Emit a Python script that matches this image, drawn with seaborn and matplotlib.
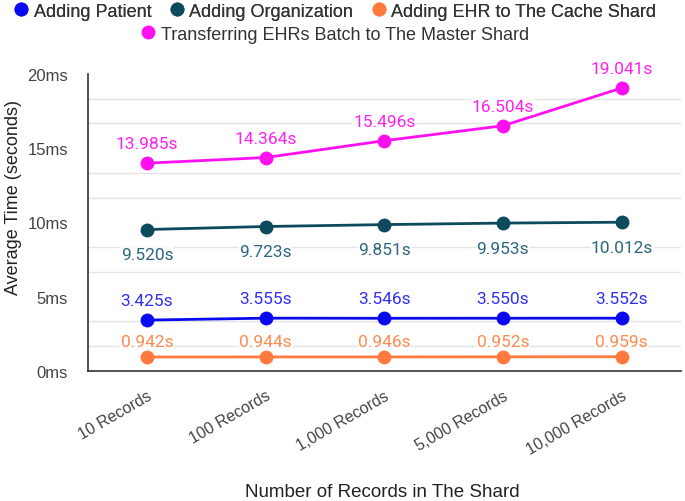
import pandas as pd
import numpy as np
import seaborn as sns
import matplotlib.pyplot as plt
import matplotlib.transforms as mtransforms
from matplotlib.ticker import MultipleLocator, FuncFormatter
from matplotlib.lines import Line2D

categories = ['10 Records', '100 Records', '1,000 Records', '5,000 Records', '10,000 Records']
series_names = ['Adding Patient', 'Adding Organization', 'Adding EHR to The Cache Shard',
                'Transferring EHRs Batch to The Master Shard']
patient = [3.425, 3.555, 3.546, 3.550, 3.552]
organization = [9.520, 9.723, 9.851, 9.953, 10.012]
ehr_cache = [0.942, 0.944, 0.946, 0.952, 0.959]
transfer = [13.985, 14.364, 15.496, 16.504, 19.041]

line_colors = ['#0a0af0', '#0d4a5e', '#ff7a3c', '#ff10f0']
label_colors = ['#3030f5', '#2c6680', '#ff8a50', '#ff20f0']
label_offsets = [14, -18, 11, 14]

rows = []
for name, vals in zip(series_names, [patient, organization, ehr_cache, transfer]):
    for i, v in enumerate(vals):
        rows.append({'records': i, 'time': v, 'series': name})
df = pd.DataFrame(rows)

sns.set_style('white')
plt.rcParams['font.family'] = ['Liberation Sans', 'DejaVu Sans']

fig = plt.figure(figsize=(6.85, 5.02), dpi=100)
ax = fig.add_axes([0.128, 0.259, 0.866, 0.592])

sns.lineplot(data=df, x='records', y='time', hue='series', hue_order=series_names,
             palette=line_colors, marker='o', markersize=10, markeredgewidth=0,
             linewidth=2, legend=False, ax=ax)

for name, vals, col, off in zip(series_names, [patient, organization, ehr_cache, transfer],
                                label_colors, label_offsets):
    for i, v in enumerate(vals):
        ax.annotate(f'{v:.3f}s', (i, v), xytext=(0, off), textcoords='offset points',
                    ha='center', va='center', color=col, fontsize=12.5, family='Roboto',
                    bbox=dict(boxstyle='square,pad=0.05', fc='white', ec='none', alpha=0.8))

ax.set_xlim(-0.5, 4.5)
ax.set_ylim(0, 20)
ax.set_xticks(range(len(categories)))
ax.set_xticklabels(categories, rotation=30, ha='right', rotation_mode='anchor',
                   fontsize=11.5, color='#444444')
# nudge the rotated labels a bit right and down
shift = mtransforms.ScaledTranslation(6 / 100, -3 / 100, fig.dpi_scale_trans)
for lbl in ax.get_xticklabels():
    lbl.set_transform(lbl.get_transform() + shift)

ax.yaxis.set_major_locator(MultipleLocator(5))
ax.yaxis.set_minor_locator(MultipleLocator(5 / 3))
ax.yaxis.set_major_formatter(FuncFormatter(lambda v, p: f'{v:.0f}ms'))
ax.tick_params(axis='y', which='major', length=0, labelsize=12, labelcolor='#444444', pad=14)
ax.tick_params(axis='y', which='minor', length=6, direction='inout', color='#333333', width=1)
ax.tick_params(axis='x', which='major', length=8, direction='out', color='#555555', width=1.2, pad=4)
ax.grid(False)
ax.grid(axis='y', which='minor', color='#e3e3e3', linewidth=1)
ax.set_axisbelow(True)

for s in ['top', 'right']:
    ax.spines[s].set_visible(False)
for s in ['left', 'bottom']:
    ax.spines[s].set_color('#333333')
    ax.spines[s].set_linewidth(1.2)

ax.set_xlabel('Number of Records in The Shard', fontsize=13.5, color='#222222')
ax.set_ylabel('Average Time (seconds)', fontsize=13, color='#222222')
ax.xaxis.set_label_coords(0.497, -0.377)
ax.yaxis.set_label_coords(-0.111, 0.586)

handles = [Line2D([], [], marker='o', linestyle='none', markersize=10, markeredgewidth=0, color=c)
           for c in line_colors]
leg1 = fig.legend(handles[:3], series_names[:3], loc='center', bbox_to_anchor=(0.488, 0.976),
                  ncol=3, frameon=False, fontsize=13, handletextpad=0.2, columnspacing=0.9,
                  handlelength=1, borderpad=0)
for t in leg1.get_texts():
    t.set_color('#333333')
leg2 = fig.legend(handles[3:], series_names[3:], loc='center', bbox_to_anchor=(0.488, 0.93),
                  ncol=1, frameon=False, fontsize=13, handletextpad=0.2, handlelength=1,
                  borderpad=0)
for t in leg2.get_texts():
    t.set_color('#333333')
fig.add_artist(leg1)

fig.savefig('out.png', dpi=100)
